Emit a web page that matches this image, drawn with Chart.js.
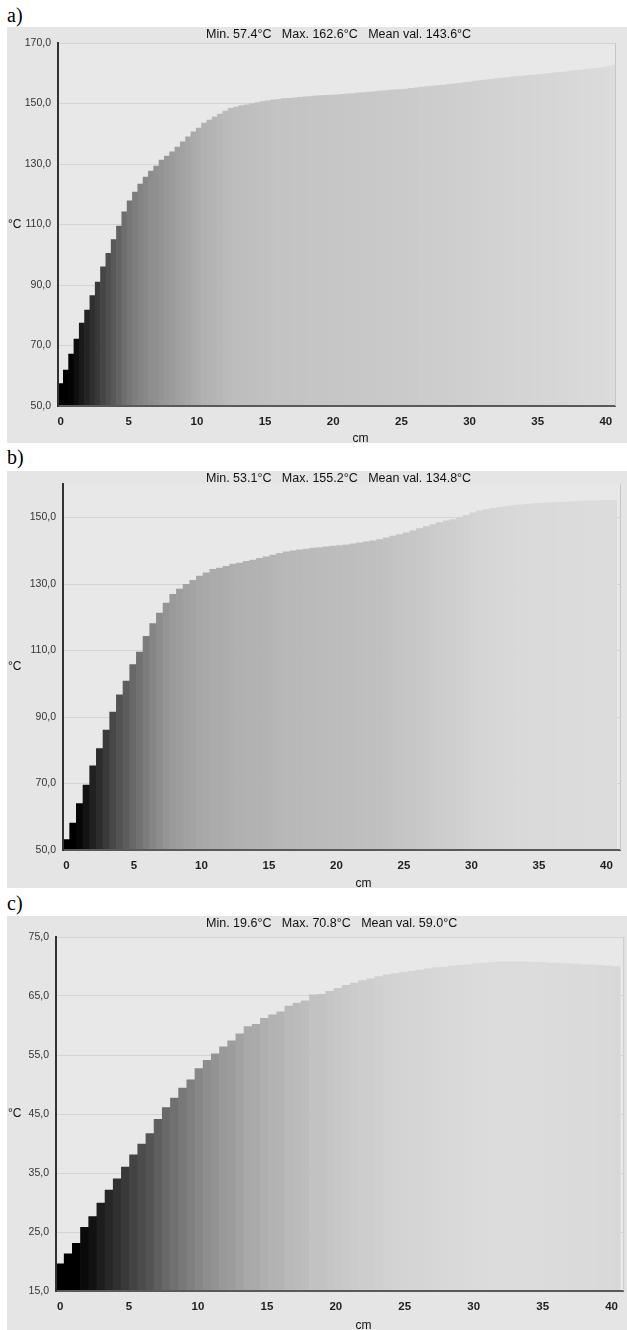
<!DOCTYPE html>
<html>
<head>
<meta charset="utf-8">
<script src="https://cdn.jsdelivr.net/npm/chart.js@4.4.1/dist/chart.umd.min.js"></script>
<style>
  body { margin: 0; background: #fff; width: 627px; height: 1330px; position: relative; overflow: hidden; }
  .lbl { position: absolute; left: 7px; font: 20px "Liberation Serif", "Times New Roman", serif; line-height: 20px; color: #000; }
  canvas { position: absolute; left: 7px; }
</style>
</head>
<body>
<div class="lbl" style="top:5px">a)</div>
<canvas id="chartA" width="620" height="416" style="top:27px"></canvas>
<div class="lbl" style="top:447px">b)</div>
<canvas id="chartB" width="620" height="417" style="top:471px"></canvas>
<div class="lbl" style="top:893px">c)</div>
<canvas id="chartC" width="620" height="414" style="top:916px"></canvas>
<script>
// temperature along the profile, one reading per sample (°C)
const tempsA = [
  57.4, 61.9, 67.2, 72.1, 77.4, 81.7, 86.5, 91.0, 96.0, 100.5,
  105.0, 109.5, 114.2, 117.8, 120.7, 123.4, 125.7, 127.7, 129.3, 131.3,
  132.6, 134.0, 135.6, 137.3, 139.0, 140.6, 141.9, 143.5, 144.5, 145.6,
  146.5, 147.5, 148.4, 148.8, 149.3, 149.6, 150.0, 150.3, 150.6, 150.9,
  151.2, 151.4, 151.6, 151.7, 151.9, 152.0, 152.2, 152.3, 152.5, 152.6,
  152.7, 152.8, 152.9, 153.0, 153.2, 153.3, 153.5, 153.6, 153.8, 153.9,
  154.1, 154.2, 154.4, 154.5, 154.6, 154.8, 155.0, 155.2, 155.4, 155.6,
  155.8, 155.9, 156.1, 156.3, 156.5, 156.7, 156.9, 157.1, 157.4, 157.6,
  157.8, 158.0, 158.2, 158.4, 158.6, 158.8, 159.0, 159.1, 159.3, 159.4,
  159.6, 159.8, 160.0, 160.1, 160.3, 160.5, 160.7, 160.9, 161.1, 161.3,
  161.5, 161.7, 161.9, 162.2, 162.6
];
const tempsB = [
  53.1, 58.1, 64.0, 69.5, 75.3, 80.5, 86.1, 91.5, 96.7, 100.8,
  105.8, 109.5, 114.3, 118.1, 121.3, 124.3, 126.9, 128.5, 129.9, 131.1,
  132.4, 133.4, 134.4, 134.8, 135.3, 136.0, 136.3, 136.8, 137.2, 137.7,
  138.2, 138.7, 139.2, 139.7, 140.0, 140.3, 140.5, 140.8, 141.0, 141.2,
  141.4, 141.6, 141.8, 142.1, 142.4, 142.7, 143.0, 143.4, 143.9, 144.4,
  144.9, 145.4, 146.0, 146.7, 147.3, 147.9, 148.5, 149.0, 149.4, 150.0,
  150.7, 151.4, 152.0, 152.4, 152.8, 153.1, 153.4, 153.6, 153.8, 154.0,
  154.2, 154.3, 154.4, 154.5, 154.6, 154.7, 154.8, 154.9, 155.0, 155.0,
  155.1, 155.2, 155.2
];
const tempsC = [
  19.6, 21.3, 23.1, 25.8, 27.6, 29.9, 32.1, 34.0, 36.0, 38.1,
  39.9, 41.7, 44.1, 46.1, 47.7, 49.4, 50.8, 52.7, 54.1, 55.2,
  56.4, 57.4, 58.6, 59.8, 60.2, 61.2, 61.8, 62.3, 63.3, 63.8,
  64.2, 65.2, 65.3, 65.8, 66.3, 66.8, 67.2, 67.6, 67.9, 68.3,
  68.6, 68.8, 69.0, 69.2, 69.4, 69.6, 69.8, 69.9, 70.1, 70.2,
  70.3, 70.5, 70.6, 70.7, 70.8, 70.8, 70.8, 70.8, 70.7, 70.7,
  70.6, 70.6, 70.5, 70.4, 70.3, 70.3, 70.2, 70.1, 70.0
];

// sample spacing along the bar, cm
const stepA = 0.39;
const stepB = 0.494;
const stepC = 0.593;

const xTicks = [0, 5, 10, 15, 20, 25, 30, 35, 40];
const yTicksA = [50, 70, 90, 110, 130, 150, 170];
const yTicksB = [50, 70, 90, 110, 130, 150];
const yTicksC = [15, 25, 35, 45, 55, 65, 75];

const statsA = ['Min. 57.4°C', 'Max. 162.6°C', 'Mean val. 143.6°C'];
const statsB = ['Min. 53.1°C', 'Max. 155.2°C', 'Mean val. 134.8°C'];
const statsC = ['Min. 19.6°C', 'Max. 70.8°C', 'Mean val. 59.0°C'];

const SANS = '"Liberation Sans", Arial, Helvetica, sans-serif';

// grey level of a sample, scaled between the profile's own min and max
function grays(temps) {
  const lo = Math.min(...temps), hi = Math.max(...temps);
  return temps.map(v => {
    const t = (v - lo) / (hi - lo);
    const g = Math.round(220 * Math.min(1, Math.max(0, (t - 0.08) / 0.92)));
    return 'rgb(' + g + ',' + g + ',' + g + ')';
  });
}

const panelDeco = {
  id: 'panelDeco',
  beforeDraw(chart) {
    const { ctx, chartArea: a } = chart;
    ctx.save();
    ctx.fillStyle = '#e5e5e5';
    ctx.fillRect(0, 0, chart.width, chart.height);
    ctx.fillStyle = '#e8e8e8';
    ctx.fillRect(a.left, a.top, a.right - a.left, a.bottom - a.top);
    ctx.restore();
  },
  afterDraw(chart, args, opts) {
    const { ctx, chartArea: a } = chart;
    ctx.save();
    // thin frame on the right of the plot
    ctx.strokeStyle = '#c6c6c6';
    ctx.lineWidth = 1;
    ctx.beginPath();
    ctx.moveTo(a.right + 0.5, a.top);
    ctx.lineTo(a.right + 0.5, a.bottom);
    ctx.stroke();

    ctx.fillStyle = '#111';
    ctx.font = '12.5px ' + SANS;
    ctx.textAlign = 'left';
    ctx.textBaseline = 'alphabetic';
    ctx.fillText(opts.stats.join('   '), 199, 10.5);

    ctx.font = '12px ' + SANS;
    ctx.textBaseline = 'middle';
    ctx.fillText('°C', 1, (a.top + a.bottom) / 2);

    ctx.textAlign = 'center';
    ctx.textBaseline = 'alphabetic';
    ctx.fillText('cm', chart.scales.x.getPixelForValue(22), chart.height - 1);
    ctx.restore();
  }
};

function makeChart(id, temps, step, p) {
  const ctx = document.getElementById(id);
  return new Chart(ctx, {
    type: 'bar',
    data: {
      datasets: [{
        data: temps.map((v, i) => ({ x: +(i * step).toFixed(3), y: v })),
        backgroundColor: grays(temps),
        borderWidth: 0,
        barPercentage: 1,
        categoryPercentage: 1
      }]
    },
    options: {
      responsive: false,
      animation: false,
      layout: { padding: { top: p.padTop, right: p.padRight, left: 0, bottom: 0 } },
      plugins: {
        legend: { display: false },
        tooltip: { enabled: false },
        panelDeco: { stats: p.stats }
      },
      scales: {
        x: {
          type: 'linear',
          offset: false,
          min: -step / 2,
          max: p.xMax,
          afterBuildTicks: s => { s.ticks = xTicks.map(v => ({ value: v })); },
          afterFit: s => { s.height = p.xH; },
          ticks: { padding: 9, color: '#1e1e1e', font: { family: SANS, size: 11.5, weight: 'bold' }, maxRotation: 0 },
          grid: { offset: false, drawOnChartArea: false, drawTicks: false },
          border: { color: '#595959', width: 2, z: 1 }
        },
        y: {
          min: p.yMin,
          max: p.yMax,
          afterBuildTicks: s => { s.ticks = p.yTicks.map(v => ({ value: v })); },
          afterFit: s => { s.width = p.yW; },
          ticks: {
            padding: 7,
            color: '#333',
            font: { family: SANS, size: 10.5 },
            callback: v => v.toFixed(1).replace('.', ',')
          },
          grid: { color: '#d3d3d3', drawTicks: false },
          border: { color: '#333', width: 2, z: 1 }
        }
      }
    },
    plugins: [panelDeco]
  });
}

makeChart('chartA', tempsA, stepA, {
  yMin: 50, yMax: 170, yTicks: yTicksA, xMax: 40.67, stats: statsA,
  padTop: 16, padRight: 12, yW: 51, xH: 37
});
makeChart('chartB', tempsB, stepB, {
  yMin: 50, yMax: 160, yTicks: yTicksB, xMax: 41.0, stats: statsB,
  padTop: 7, padRight: 7, yW: 56, xH: 38
});
makeChart('chartC', tempsC, stepC, {
  yMin: 15, yMax: 75, yTicks: yTicksC, xMax: 40.85, stats: statsC,
  padTop: 21, padRight: 2, yW: 49, xH: 39
});
</script>
</body>
</html>
